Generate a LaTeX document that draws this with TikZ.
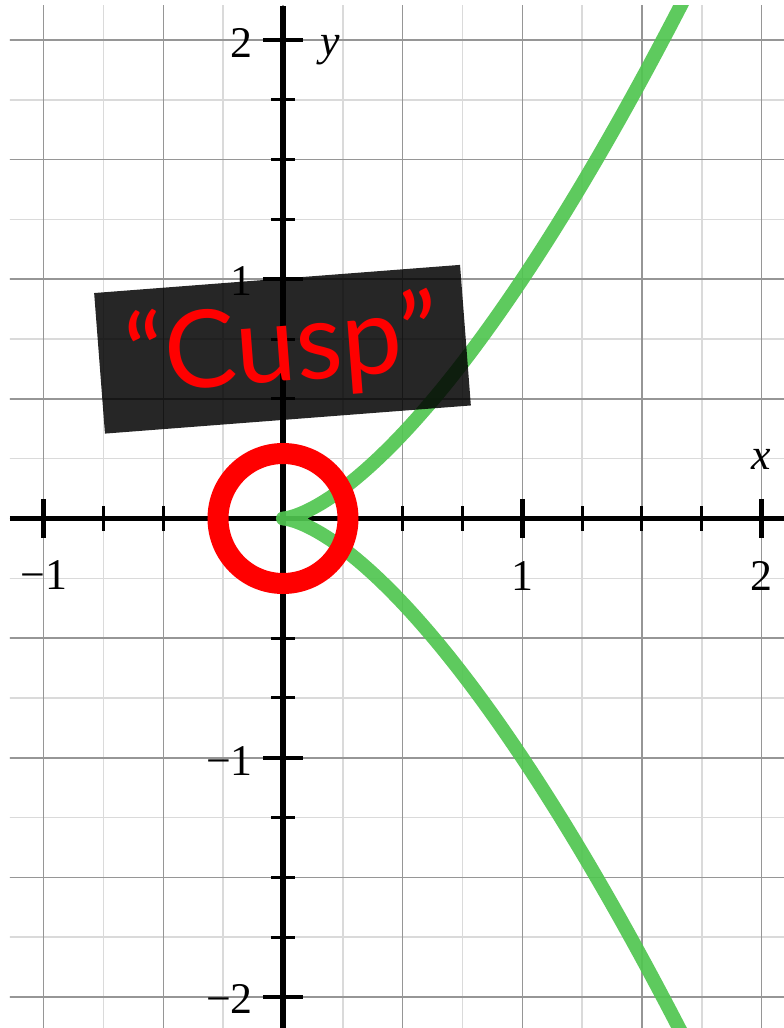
\documentclass[tikz,border=0pt]{standalone}
\usepackage{fontspec}
\newfontfamily\labfont{Liberation Serif}
\newfontfamily\cuspfont{Lato}
\definecolor{minorgray}{RGB}{218,218,218}
\definecolor{majorgray}{RGB}{150,150,150}
\definecolor{curvegreen}{RGB}{80,197,80}
\begin{document}
\begin{tikzpicture}[x=239.3bp,y=239.3bp,
  minorline/.style={draw=minorgray, line width=1.6bp},
  majorline/.style={draw=majorgray, line width=1.6bp},
  axisline/.style={draw=black, line width=5bp},
  majortick/.style={draw=black, line width=4.5bp},
  minortick/.style={draw=black, line width=3bp},
  numlab/.style={inner sep=0pt, font=\labfont\fontsize{44}{44}\selectfont},
  varlab/.style={inner sep=0pt, font=\labfont\itshape\fontsize{44}{44}\selectfont},
  curvestyle/.style={draw=curvegreen, draw opacity=0.92, line width=14bp, line join=round, line cap=round},
  cuspboxstyle/.style={fill=black, fill opacity=0.85, draw=none, minimum width=367bp, minimum height=141bp, rotate=4.4, inner sep=0pt},
  cusptextstyle/.style={text=red, inner sep=0pt, font=\cuspfont\fontsize{108}{108}\selectfont, rotate=4.4, anchor=base},
  ringstyle/.style={draw=red, line width=21bp, circle, minimum size=130bp, inner sep=0pt}
]
\useasboundingbox (-283bp,-509.5bp) rectangle (501bp,518.5bp);
% grid
\begin{scope}
\clip (-273bp,-509.5bp) rectangle (501bp,512.5bp);
\foreach \i in {-5,...,9} \draw[minorline] (\i/4,-2.3) -- (\i/4,2.3);
\foreach \j in {-9,...,9} \draw[minorline] (-1.3,\j/4) -- (2.2,\j/4);
\foreach \i in {-2,...,4} \draw[majorline] (\i/2,-2.3) -- (\i/2,2.3);
\foreach \j in {-4,...,4} \draw[majorline] (-1.3,\j/2) -- (2.2,\j/2);
\end{scope}
% axes
\coordinate (xl) at (-273bp,0bp);
\coordinate (xr) at (501bp,0bp);
\coordinate (yb) at (0bp,-509.5bp);
\coordinate (yt) at (0bp,512.5bp);
\draw[axisline] (xl) -- (xr);
\draw[axisline] (yb) -- (yt);
% x ticks
\foreach \i in {-3,-2,-1,1,2,3,5,6,7}
  \draw[minortick] ([yshift=-12bp]\i/4,0) -- ([yshift=12bp]\i/4,0);
\foreach \i in {-1,1,2}
  \draw[majortick] ([yshift=-19bp]\i,0) -- ([yshift=19bp]\i,0);
% y ticks
\foreach \j in {-7,-6,-5,-3,-2,-1,1,2,3,5,6,7}
  \draw[minortick] ([xshift=-12bp]0,\j/4) -- ([xshift=12bp]0,\j/4);
\foreach \j in {-2,-1,1,2}
  \draw[majortick] ([xshift=-20bp]0,\j) -- ([xshift=20bp]0,\j);
% tick labels
\node[numlab, anchor=base] (xlm1) at ([yshift=-70.5bp]-1,0) {−1};
\node[numlab, anchor=base] (xl1) at ([yshift=-71.5bp]1,0) {1};
\node[numlab, anchor=base] (xl2) at ([yshift=-71.5bp]2,0) {2};
\node[numlab, anchor=base east] (yl2) at ([shift={(-30bp,-17.5bp)}]0,2) {2};
\node[numlab, anchor=base east] (yl1) at ([shift={(-30bp,-16bp)}]0,1) {1};
\node[numlab, anchor=base east] (ylm1) at ([shift={(-30bp,-18bp)}]0,-1) {−1};
\node[numlab, anchor=base east] (ylm2) at ([shift={(-30bp,-16bp)}]0,-2) {−2};
\node[varlab, anchor=base west] (ylab) at ([shift={(37bp,-16bp)}]0,2) {y};
\node[varlab, anchor=base] (xlab) at ([yshift=48.5bp]2,0) {x};
% curve
\begin{scope}
\clip (-273bp,-509.5bp) rectangle (501bp,512.5bp);
\draw[curvestyle] plot[domain=-1.3:1.3, samples=261, variable=\t] ({\t*\t},{\t*\t*\t});
\end{scope}
% label box
\node[cuspboxstyle] (cuspbox) at (-0.5bp,169.25bp) {};
\node[cusptextstyle] (cusplabel) at (1.95bp,137.3bp) {“Cusp”};
% ring
\node[ringstyle] (ring) at (0,0) {};
\end{tikzpicture}
\end{document}
